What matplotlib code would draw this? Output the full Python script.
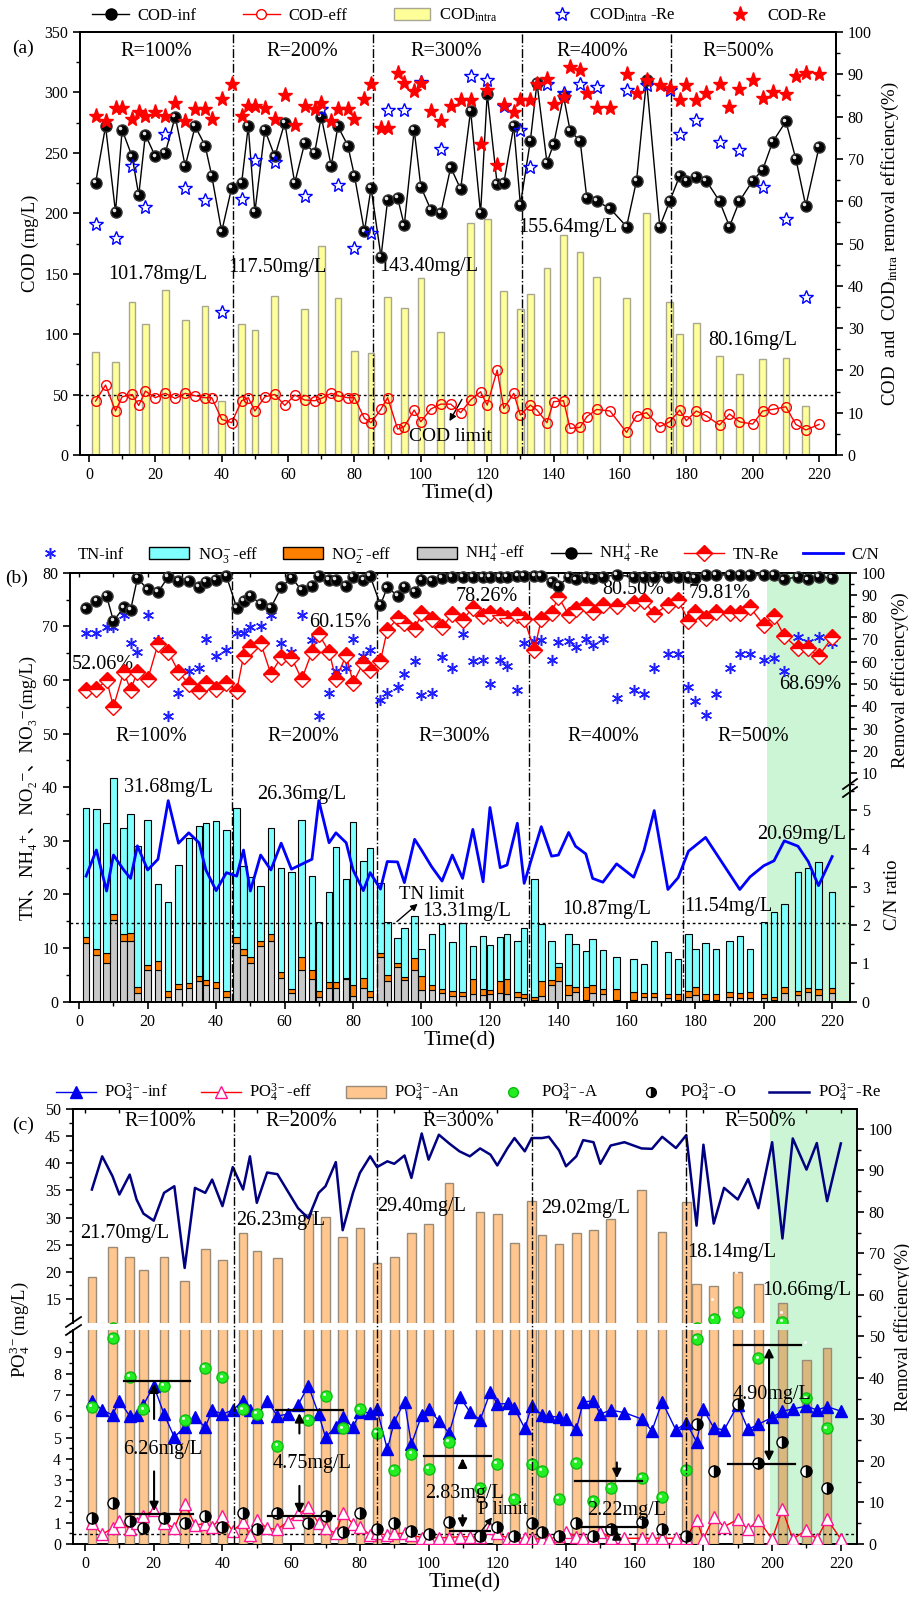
import numpy as np
import matplotlib
matplotlib.use("Agg")
import matplotlib.pyplot as plt
from matplotlib.lines import Line2D
from matplotlib.patches import Patch
from matplotlib.transforms import ScaledTranslation

plt.rcParams['font.family'] = ['Liberation Serif', 'DejaVu Serif', 'Noto Sans CJK SC']
plt.rcParams['mathtext.fontset'] = 'custom'
plt.rcParams['mathtext.rm'] = 'Liberation Serif'
plt.rcParams['mathtext.it'] = 'Liberation Serif:italic'
plt.rcParams['mathtext.bf'] = 'Liberation Serif:bold'
plt.rcParams['font.size'] = 11
plt.rcParams['axes.linewidth'] = 1.4

# ---------------- data ----------------
days = [2, 5, 8, 10, 13, 15, 17, 20, 23, 26, 29, 32, 35, 37, 40, 43,
        46, 48, 50, 53, 56, 59, 62, 65, 68, 70, 73, 75, 78, 80, 83, 85,
        88, 90, 93, 95, 98, 100, 103, 106, 109,
        112, 115, 118, 120, 123, 125, 128, 130, 133, 135, 138, 140, 143, 145, 148, 150,
        153, 157, 162, 165, 168, 172, 175,
        178, 180, 183, 186, 190, 193, 196, 200, 203, 206, 210, 213, 216, 220]
sample_days = [2, 8, 13, 17, 23, 29, 35, 40, 46, 50, 56, 65, 70, 75, 80, 85,
               90, 95, 100, 106, 115, 120, 125, 130, 133, 138, 143, 148, 153, 162, 168, 175,
               178, 183, 190, 196, 203, 210, 216]

# (a) COD
cod_inf = [225, 272, 201, 269, 247, 215, 265, 247, 250, 280, 239, 272, 256, 231, 185, 221,
           225, 272, 201, 269, 247, 275, 225, 258, 250, 280, 239, 272, 256, 231, 185, 221,
           164, 211, 213, 190, 269, 222, 203, 200, 238,
           220, 285, 200, 299, 224, 225, 272, 207, 260, 308, 242, 257, 297, 268, 260, 213,
           210, 204, 189, 227, 310, 189, 210,
           231, 227, 230, 227, 210, 189, 210, 227, 236, 259, 276, 245, 206, 255]
cod_eff = [44.6, 57.9, 36.4, 48.2, 50.1, 41.0, 52.9, 47.4, 51.0, 46.8, 51.0, 49.0, 47.4, 47.4, 29.5, 26.7,
           44.9, 47.4, 36.4, 48.2, 50.1, 41.0, 49.6, 45.5, 44.9, 46.8, 51.0, 49.0, 47.4, 47.4, 30.3, 26.7,
           38.0, 47.4, 21.5, 23.4, 37.2, 27.5, 38.0, 42.1, 42.1,
           35.0, 45.5, 52.3, 41.3, 70.2, 38.6, 51.0, 33.1, 41.3, 37.2, 26.7, 44.1, 44.9, 22.0, 22.9, 31.7,
           37.7, 36.4, 18.7, 32.5, 35.0, 23.4, 27.5,
           37.2, 28.4, 36.4, 32.5, 24.8, 33.9, 27.5, 25.6, 36.4, 37.7, 39.9, 25.3, 20.7, 25.3]
cod_re = [80.2, 78.9, 82.1, 82.1, 79.5, 81.1, 80.2, 81.1, 80.1, 83.2, 79.0, 81.9, 81.7, 79.5, 84.1, 87.8,
          80.1, 82.4, 82.4, 82.1, 79.5, 85.0, 78.0, 82.4, 81.7, 83.3, 79.0, 81.9, 81.7, 79.5, 84.1, 87.8,
          77.3, 77.3, 90.2, 88.0, 86.0, 88.0, 81.3, 78.9, 82.4,
          84.0, 83.9, 73.6, 86.2, 68.5, 82.7, 81.1, 84.0, 84.0, 87.8, 88.8, 82.9, 84.6, 91.7, 91.1, 85.6,
          82.1, 82.1, 90.0, 85.6, 88.7, 87.4, 86.8,
          83.9, 87.4, 84.0, 85.6, 87.8, 82.3, 86.6, 88.6, 84.4, 85.7, 85.4, 89.5, 90.3, 90.0]
cod_intra = [85.4, 76.6, 126.2, 108.8, 136.9, 111.3, 122.9, 44.9,
             108.8, 103.3, 131.7, 120.7, 173.0, 129.5, 86.0, 84.8,
             130.6, 121.8, 146.6, 101.7, 192.0, 195.6, 136.1, 121.2,
             133.6, 154.8, 182.4, 168.0, 147.4, 129.8, 200.0, 126.7,
             100.3, 109.4, 82.1, 66.7, 79.3, 80.4, 40.8]
cod_intra_re = [54.7, 51.3, 68.3, 58.7, 75.8, 63.1, 60.2, 33.9,
                60.6, 69.8, 69.3, 61.3, 81.9, 63.8, 49.0, 52.4,
                81.5, 81.5, 88.2, 72.4, 89.5, 88.6, 82.5, 76.8,
                68.1, 87.6, 85.6, 87.8, 87.0, 86.4, 87.4, 86.2,
                76.0, 79.1, 74.0, 72.2, 63.4, 55.7, 37.4]

# (b) nitrogen
tn_inf = [68.8, 68.8, 69.9, 69.9, 72.1, 66.9, 65.3, 72.1, 67.4, 53.3, 57.6, 61.7, 62.2, 67.6, 64.4, 65.6,
          68.8, 68.8, 69.9, 70.0, 72.1, 66.9, 65.3, 72.1, 67.4, 53.3, 57.6, 61.7, 62.2, 67.6, 64.4, 65.6,
          56.2, 57.6, 58.7, 61.1, 63.6, 57.2, 57.6, 64.3, 62.2,
          68.6, 63.6, 63.7, 59.2, 63.7, 62.6, 58.2, 66.8, 67.3, 67.4, 63.7, 67.1, 67.2, 66.1, 67.6, 66.5,
          67.7, 56.7, 58.2, 57.4, 62.2, 64.8, 64.9,
          58.6, 56.0, 53.5, 57.4, 62.2, 64.8, 64.9, 63.8, 64.1, 61.7, 68.0, 67.1, 68.0, 66.8]
nh4_eff = [10.9, 8.8, 7.3, 15.2, 11.4, 11.4, 1.6, 5.9, 6.0, 0.8, 2.3, 2.5, 3.9, 3.1, 2.5, 0.9,
           10.9, 8.8, 7.3, 10.3, 11.4, 4.5, 1.6, 5.9, 4.2, 0.8, 2.5, 2.5, 4.2, 1.1, 2.5, 0.9,
           8.4, 3.9, 6.4, 4.0, 5.9, 2.2, 2.2, 1.6, 1.1,
           1.1, 1.4, 1.2, 1.4, 1.6, 1.4, 0.8, 0.6, 0.4, 1.1, 3.1, 3.9, 1.2, 1.9, 0.3, 1.7,
           1.4, 0.4, 0.3, 0.8, 0.8, 0.6, 0.3,
           0.9, 1.2, 0.3, 0.3, 0.8, 0.6, 0.6, 0.6, 0.3, 1.7, 1.2, 1.9, 1.2, 1.7]
no2_eff = [1.2, 1.0, 1.7, 1.1, 1.2, 1.5, 1.1, 0.9, 1.5, 1.2, 1.0, 0.9, 0.9, 0.9, 1.1, 1.1,
           1.2, 1.1, 1.0, 1.1, 1.2, 1.0, 0.7, 2.4, 1.8, 1.2, 1.1, 1.1, 0.3, 2.0, 1.9, 1.1,
           0.7, 1.0, 0.9, 0.6, 2.2, 2.6, 0.9, 0.8, 0.9,
           0.8, 2.8, 1.2, 0.8, 2.3, 2.8, 1.1, 0.8, 0.5, 2.8, 0.9, 2.6, 1.9, 0.8, 2.4, 1.4,
           1.0, 2.0, 1.6, 0.8, 0.8, 0.8, 1.1,
           1.1, 1.6, 1.1, 1.1, 1.1, 1.1, 1.3, 0.8, 0.6, 1.0, 0.8, 0.6, 1.1, 0.8]
no3_eff = [24.1, 26.1, 24.4, 25.5, 19.8, 22.1, 26.3, 27.1, 14.4, 16.5, 22.2, 27.2, 28.0, 29.4, 30.1, 30.1,
           24.1, 15.4, 15.0, 10.2, 19.8, 19.5, 21.9, 25.6, 17.4, 12.8, 16.9, 25.3, 18.4, 30.4, 21.8, 26.7,
           13.0, 9.9, 4.5, 9.2, 7.9, 5.1, 9.5, 12.1, 9.2,
           12.8, 6.2, 9.9, 8.4, 8.2, 8.4, 9.4, 12.3, 22.0, 10.5, 7.4, 0.8, 9.6, 8.0, 6.8, 8.5,
           7.2, 6.0, 6.0, 5.4, 9.7, 7.8, 6.6,
           10.6, 7.0, 9.5, 8.5, 9.5, 10.6, 8.0, 13.5, 15.8, 15.6, 22.1, 22.4, 23.7, 18.0]
nh4_re = [84.0, 87.4, 89.5, 78.3, 84.4, 83.2, 97.5, 92.5, 91.2, 98.2, 96.3, 96.3, 93.7, 95.7, 96.7, 98.5,
          84.3, 87.4, 89.7, 85.9, 84.3, 93.4, 97.8, 92.1, 94.2, 98.5, 96.7, 96.7, 94.0, 98.2, 96.7, 98.5,
          85.5, 93.4, 89.7, 93.7, 91.2, 96.7, 96.4, 97.8, 98.2,
          98.2, 98.2, 98.2, 98.2, 98.2, 98.2, 98.5, 98.5, 98.5, 98.5, 96.0, 94.0, 98.2, 97.0, 98.2, 97.5,
          98.2, 99.0, 98.2, 98.2, 98.2, 98.2, 98.2,
          98.2, 97.5, 99.0, 99.0, 99.0, 99.0, 99.0, 99.0, 99.0, 97.0, 98.2, 97.0, 98.2, 97.6]
tn_re = [47.3, 47.6, 51.8, 39.8, 55.5, 47.3, 55.5, 52.1, 67.9, 64.5, 55.5, 50.0, 46.7, 50.3, 47.6, 50.6,
         47.0, 62.5, 66.7, 68.5, 54.5, 62.2, 61.9, 52.1, 64.5, 72.4, 64.5, 52.2, 63.0, 50.6, 59.6, 56.3,
         60.3, 74.2, 79.5, 77.2, 74.5, 81.7, 79.0, 75.4, 81.4,
         78.7, 84.3, 80.5, 81.7, 81.0, 79.5, 81.0, 79.0, 65.5, 79.0, 82.0, 89.2, 81.0, 83.5, 85.5, 82.5,
         85.5, 85.0, 86.5, 87.4, 81.4, 85.5, 87.7,
         78.4, 82.5, 79.5, 82.5, 82.0, 81.7, 84.4, 76.5, 80.5, 71.5, 66.0, 66.0, 62.5, 70.9]
cn_days = days[:41] + [112, 115, 118, 120, 123, 125, 128, 130, 135, 138, 140, 143, 145, 148, 150, 153,
                       157, 162, 165, 168, 172, 175, 178, 183, 193, 196, 200, 203, 206, 210, 213, 216, 220]
cn_ratio = [3.28, 3.96, 2.89, 3.83, 3.44, 3.22, 4.07, 3.44, 3.72, 5.25, 4.14, 4.41, 4.15, 3.44, 2.90, 3.37,
            3.28, 3.96, 2.89, 3.83, 3.44, 4.14, 3.46, 3.59, 3.72, 5.25, 4.15, 4.41, 4.15, 3.44, 2.90, 3.37,
            2.94, 3.66, 3.65, 3.11, 4.24, 3.96, 3.52, 3.15, 3.83,
            3.22, 4.50, 3.13, 5.07, 3.50, 3.57, 4.66, 3.09, 4.57, 3.80, 3.83, 4.42, 4.06, 3.86, 3.22, 3.12,
            3.60, 3.25, 3.95, 4.99, 2.93, 3.24, 3.93, 4.29, 2.93, 3.26, 3.55, 3.68, 4.20, 4.06, 3.66, 3.03, 3.79]

# (c) phosphate
po4_inf = [6.73, 6.29, 6.06, 6.73, 6.01, 6.06, 6.53, 7.43, 6.10, 5.01, 5.51, 5.95, 5.48, 6.29, 6.10, 6.29,
           6.73, 6.29, 5.98, 6.73, 6.01, 6.10, 6.53, 7.43, 6.10, 5.01, 5.51, 5.95, 5.48, 6.18, 6.17, 6.32,
           4.44, 5.74, 6.68, 4.68, 6.06, 6.32, 5.79, 5.20, 6.92,
           6.21, 5.82, 7.15, 6.57, 6.60, 6.37, 5.43, 6.48, 6.06, 6.01, 5.95, 5.87, 5.38, 6.68, 6.71, 6.10,
           6.29, 6.17, 5.87, 5.32, 6.68, 5.35, 5.70,
           4.80, 6.32, 5.46, 5.35, 6.53, 5.38, 5.62, 5.95, 6.24, 6.34, 6.48, 6.29, 6.45, 6.24]
po4_eff = [1.0, 0.45, 0.75, 1.1, 0.7, 1.0, 1.3, 1.6, 1.0, 0.75, 1.9, 0.9, 0.95, 0.8, 1.3, 0.6,
           1.05, 0.42, 1.13, 0.74, 0.69, 1.05, 1.39, 1.72, 0.97, 0.74, 0.5, 1.47, 0.94, 0.81, 0.42, 0.5,
           0.42, 0.5, 0.5, 0.42, 0.3, 0.3, 0.3, 0.3, 0.34,
           0.34, 0.34, 0.75, 0.5, 0.27, 0.27, 0.27, 0.27, 0.22, 0.22, 0.38, 0.58, 0.34, 0.27, 0.27, 0.58,
           0.3, 0.27, 0.27, 0.27, 0.27, 0.27, 0.27,
           1.13, 0.23, 1.28, 0.81, 1.16, 0.69, 1.13, 0.23, 1.63, 0.23, 0.66, 0.23, 1.16, 0.23]
po4_re = [85.4, 93.4, 88.6, 84.2, 89.0, 83.0, 79.6, 77.9, 84.6, 86.2, 66.5, 85.8, 84.6, 87.8, 81.4, 90.8,
          85.4, 93.4, 82.2, 89.5, 89.1, 85.0, 80.9, 78.5, 84.6, 86.2, 92.0, 75.6, 84.6, 89.4, 93.4, 90.8,
          92.2, 91.6, 93.6, 88.2, 98.9, 92.6, 98.6, 96.5, 94.6,
          93.4, 95.3, 93.8, 91.2, 95.4, 97.8, 94.6, 97.8, 97.8, 98.1, 94.8, 91.0, 93.4, 97.3, 96.8, 91.6,
          96.0, 96.8, 95.3, 95.2, 98.1, 95.4, 98.5,
          76.7, 96.2, 77.2, 85.8, 83.0, 87.9, 80.9, 96.8, 73.6, 97.7, 90.2, 96.6, 82.6, 96.5]
po4_an = [19.0, 24.6, 22.7, 20.4, 22.8, 18.4, 24.2, 22.1,
          27.2, 23.9, 22.5, 30.6, 30.1, 26.4, 28.0, 21.6,
          22.8, 27.2, 28.8, 36.3, 31.1, 30.6, 25.4, 33.1,
          26.8, 25.1, 27.2, 27.7, 29.8, 35.1, 27.4, 32.9,
          17.8, 17.4, 20.0, 17.8, 14.2, 8.64, 9.22]
po4_a = [6.42, 9.66, 7.86, 6.32, 7.43, 5.82, 8.28, 7.82,
         6.32, 6.10, 4.62, 5.82, 6.95, 5.43, 6.32, 5.23,
         3.47, 4.23, 3.51, 4.80, 2.61, 3.76, 2.11, 3.76,
         3.44, 2.10, 3.79, 2.02, 2.64, 3.11, 2.19, 3.47,
         9.62, 11.4, 12.7, 8.72, 10.8, 6.84, 5.43]
po4_o = [1.20, 1.91, 1.10, 0.74, 1.24, 0.97, 1.31, 0.78,
         1.47, 0.69, 1.47, 0.97, 1.31, 0.58, 1.47, 0.70,
         0.97, 0.63, 0.47, 1.05, 0.38, 0.78, 0.38, 1.00,
         0.55, 0.39, 1.00, 0.38, 0.69, 1.05, 0.69, 0.38,
         5.63, 3.44, 6.57, 3.79, 4.80, 3.43, 2.61]

r_labels = ['R=100%', 'R=200%', 'R=300%', 'R=400%', 'R=500%']
bounds_a = [43.5, 85.5, 130.5, 175.5]
bounds_b = [44.5, 87, 131.5, 176.5]
bounds_c = [43.5, 85, 130, 175]

cod_texts = ['101.78mg/L', '117.50mg/L', '143.40mg/L', '155.64mg/L', '80.16mg/L']
tn_re_texts = ['52.06%', '60.15%', '78.26%', '80.50%', '79.81%', '68.69%']
tn_texts = ['31.68mg/L', '26.36mg/L', '13.31mg/L', '10.87mg/L', '11.54mg/L', '20.69mg/L']
po4_an_texts = ['21.70mg/L', '26.23mg/L', '29.40mg/L', '29.02mg/L', '18.14mg/L', '10.66mg/L']
po4_rel_texts = ['6.26mg/L', '4.75mg/L', '2.83mg/L', '2.22mg/L', '4.90mg/L']

# ---------------- helpers ----------------
fig = plt.figure(figsize=(9.09, 16.04), dpi=100)
W, H = 909.0, 1604.0


def rect(l, t, r, b):
    return [l / W, 1 - b / H, (r - l) / W, (b - t) / H]


def ticks_out(ax, axis='both'):
    ax.tick_params(axis=axis, which='major', direction='out', length=5, width=1.2, labelsize=11.5)
    ax.tick_params(axis=axis, which='minor', direction='out', length=3, width=1.0)


def top_ticks(ax):
    sec = ax.secondary_xaxis('top')
    sec.set_xticks(np.arange(0, 221, 10))
    sec.tick_params(direction='in', length=3, width=1.0, labeltop=False)


def shine(ax, x, y, size=2.6):
    off = ScaledTranslation(-1.3 / 72, 1.3 / 72, fig.dpi_scale_trans)
    ax.plot(x, y, 'o', ms=size, color='white', mec='none', alpha=0.9,
            transform=ax.transData + off, zorder=6, clip_on=False)


def xaxis_days(ax, lo, hi):
    ax.set_xlim(lo, hi)
    ax.set_xticks(np.arange(0, 221, 20))
    ax.set_xticks(np.arange(0, 221, 10), minor=True)
    ax.set_xlabel('Time(d)', fontsize=16, labelpad=1)


# ================= (a) =================
ax_a = fig.add_axes(rect(80, 32, 836, 455))
ax_a2 = ax_a.twinx()
ax_a.bar(sample_days, cod_intra, width=2.0, color='#FFFF99', edgecolor='#A8A890', lw=1.0, zorder=2)
ax_a.plot(days, cod_eff, '-', color='red', lw=1.0, marker='o', ms=7, mfc='none', mec='red', mew=1.0, zorder=4)
ax_a.plot(days, cod_inf, '-', color='black', lw=1.0, marker='o', ms=8, mfc='black', mec='#333333', zorder=5)
shine(ax_a, days, cod_inf)
ax_a2.plot(sample_days, cod_intra_re, ls='none', marker='*', ms=10, mfc='none', mec='#0000FF', mew=1.0)
ax_a2.plot(days, cod_re, ls='none', marker='*', ms=11, color='#FF0000', mec='#FF0000')
for b in bounds_a:
    ax_a.axvline(b, color='black', ls='-.', lw=1.0, zorder=7)
ax_a.axhline(50, color='black', ls=(0, (2, 2)), lw=1.0, zorder=3)

xaxis_days(ax_a, -2.7, 225.1)
ax_a.set_ylim(0, 350)
ax_a.set_yticks(np.arange(0, 351, 50))
ax_a.set_yticks(np.arange(0, 351, 25), minor=True)
ax_a2.set_ylim(0, 100)
ax_a2.set_yticks(np.arange(0, 101, 10))
ax_a2.set_yticks(np.arange(0, 101, 5), minor=True)
ticks_out(ax_a)
ticks_out(ax_a2)
ax_a.set_ylabel('COD (mg/L)', fontsize=13.5, labelpad=4)
ax_a2.set_ylabel('COD  and  COD$_{\\rm intra}$ removal efficiency(%)', fontsize=13.5, labelpad=6)

for x, lab in zip([20.4, 64.4, 107.8, 151.8, 195.6], r_labels):
    ax_a.text(x, 334, lab, ha='center', va='center', fontsize=14.5)
for (x, y), lab in zip([(20.7, 149), (56.9, 155.5), (102.4, 156), (144.3, 188.6), (200, 95)], cod_texts):
    ax_a.text(x, y, lab, ha='center', va='center', fontsize=14.5)
ax_a.text(109, 15.7, 'COD limit', ha='center', va='center', fontsize=14)
ax_a.annotate('', xy=(108.2, 26), xytext=(112.8, 48),
              arrowprops=dict(arrowstyle='-|>', color='black', lw=1.0, mutation_scale=10))

h_a = [Line2D([], [], color='black', lw=1, marker='o', ms=8, mfc='black'),
       Line2D([], [], color='red', lw=1, marker='o', ms=7, mfc='white', mec='red'),
       Patch(facecolor='#FFFF99', edgecolor='#A8A890'),
       Line2D([], [], ls='none', marker='*', ms=10, mfc='none', mec='#0000FF'),
       Line2D([], [], ls='none', marker='*', ms=11, color='#FF0000')]
l_a = ['COD-inf', 'COD-eff', 'COD$_{\\rm intra}$', 'COD$_{\\rm intra}$ -Re', 'COD-Re']
fig.legend(h_a, l_a, loc='center', bbox_to_anchor=(0.505, 0.9905), ncol=5, frameon=False,
           fontsize=12, handlelength=2.2, columnspacing=2.8, handletextpad=0.5)
fig.text(23 / W, 1 - 48 / H, '(a)', fontsize=14, ha='center', va='center')

# ================= (b) =================
ax_b = fig.add_axes(rect(70, 572.7, 850, 1001.7))
ax_b.axvspan(201, 226, color='#CCF5D6', lw=0, zorder=0)
ax_b.bar(days, nh4_eff, width=1.9, color='#C8C8C8', edgecolor='black', lw=0.8, zorder=2)
ax_b.bar(days, no2_eff, width=1.9, bottom=nh4_eff, color='#FF8000', edgecolor='black', lw=0.8, zorder=2)
ax_b.bar(days, no3_eff, width=1.9, bottom=np.add(nh4_eff, no2_eff), color='#80FFFF',
         edgecolor='black', lw=0.8, zorder=2)
ax_b.plot(days, tn_inf, ls='none', marker=(6, 2, 0), ms=8, mec='#1F1FFF', mew=1.1, zorder=4)
for b in bounds_b:
    ax_b.axvline(b, color='black', ls='-.', lw=1.0, zorder=3)
ax_b.axhline(14.6, color='black', ls=(0, (2, 2)), lw=1.0, zorder=3)
xaxis_days(ax_b, -2.7, 225.2)
ax_b.set_ylim(0, 80)
ax_b.set_yticks(np.arange(0, 81, 10))
ax_b.set_yticks(np.arange(0, 81, 5), minor=True)
ax_b.spines['right'].set_visible(False)
ticks_out(ax_b)
top_ticks(ax_b)
ax_b.set_ylabel('TN、NH\u2084\u207a、NO\u2082\u207b、NO\u2083\u207b(mg/L)', fontsize=13.5, labelpad=4)

ax_bre = fig.add_axes(rect(70, 572.7, 850, 788), facecolor='none')
ax_bcn = fig.add_axes(rect(70, 788, 850, 1001.7), facecolor='none')
for ax in (ax_bre, ax_bcn):
    ax.set_xlim(-2.7, 225.2)
    for s in ('left', 'top', 'bottom'):
        ax.spines[s].set_visible(False)
    ax.set_xticks([])
    ax.yaxis.tick_right()
    ax.yaxis.set_label_position('right')
    ticks_out(ax, 'y')
ax_bre.set_ylim(3.3, 100)
ax_bre.set_yticks(np.arange(10, 101, 10))
ax_bre.set_yticks(np.arange(5, 101, 5), minor=True)
ax_bcn.set_ylim(0, 5.58)
ax_bcn.set_yticks(np.arange(0, 6, 1))
ax_bcn.set_yticks(np.arange(0, 5.6, 0.5), minor=True)
ax_bre.set_ylabel('Removal efficiency(%)', fontsize=13.5, labelpad=4)
ax_bcn.set_ylabel('C/N ratio', fontsize=13.5, labelpad=10)

ax_bre.plot(days, tn_re, '-', color='red', lw=1.0, marker='D', ms=8, fillstyle='top',
            mfc='red', mfcalt='white', mec='red', mew=1.0)
ax_bre.plot(days, nh4_re, '-', color='black', lw=1.0, marker='o', ms=8, mfc='black', mec='#333333',
            clip_on=False)
shine(ax_bre, days, nh4_re)
ax_bcn.plot(cn_days, cn_ratio, '-', color='#0000FF', lw=2.0, clip_on=False)

for x, lab in zip([21.2, 65.4, 109.5, 153.0, 196.8], r_labels):
    ax_b.text(x, 49.4, lab, ha='center', va='center', fontsize=14.5)
for (x, y), lab in zip([(7, 62.8), (76.2, 70.7), (119, 75.5), (161.9, 76.8), (187.2, 76.2), (213.5, 59.2)],
                       tn_re_texts):
    ax_b.text(x, y, lab, ha='center', va='center', fontsize=14.5)
for (x, y), lab in zip([(26, 40.0), (65, 38.7), (113.2, 16.8), (154.1, 17.2), (189.6, 17.7), (211, 31.1)],
                       tn_texts):
    ax_b.text(x, y, lab, ha='center', va='center', fontsize=14.5, zorder=8)
ax_b.text(93.5, 19.9, 'TN limit', ha='left', va='center', fontsize=13.5, zorder=8)
ax_b.annotate('', xy=(99.5, 18.6), xytext=(92.2, 14.6),
              arrowprops=dict(arrowstyle='-|>', color='black', lw=1.0, mutation_scale=10), zorder=8)

h_b = [Line2D([], [], ls='none', marker=(6, 2, 0), ms=8, mec='#1F1FFF', mew=1.1),
       Patch(facecolor='#80FFFF', edgecolor='black'),
       Patch(facecolor='#FF8000', edgecolor='black'),
       Patch(facecolor='#C8C8C8', edgecolor='black'),
       Line2D([], [], color='black', lw=1, marker='o', ms=8, mfc='black'),
       Line2D([], [], color='red', lw=1, marker='D', ms=8, fillstyle='top', mfc='red', mfcalt='white', mec='red'),
       Line2D([], [], color='#0000FF', lw=2)]
l_b = ['TN-inf', 'NO$_3^-$-eff', 'NO$_2^-$-eff', 'NH$_4^+$-eff', 'NH$_4^+$-Re', 'TN-Re', 'C/N']
fig.legend(h_b, l_b, loc='center', bbox_to_anchor=(0.5, 0.6545), ncol=7, frameon=False,
           fontsize=12, handlelength=2.4, columnspacing=1.5, handletextpad=0.5)
fig.text(17 / W, 1 - 578 / H, '(b)', fontsize=14, ha='center', va='center')

# break marks on right spine of (b)
for dy in (-4, 4):
    fig.add_artist(Line2D([(843) / W, (857) / W], [1 - (788 + dy + 5) / H, 1 - (788 + dy - 5) / H],
                          color='black', lw=1.3))

# ================= (c) =================
ax_cr = fig.add_axes(rect(73, 1109, 857, 1544))
ax_cr.axvspan(199.5, 226, color='#CCF5D6', lw=0, zorder=0)
xaxis_days(ax_cr, -3.5, 224.7)
ax_cr.set_ylim(0, 104.8)
ax_cr.yaxis.tick_right()
ax_cr.yaxis.set_label_position('right')
ax_cr.set_yticks(np.arange(0, 101, 10))
ax_cr.set_yticks(np.arange(0, 101, 5), minor=True)
ax_cr.spines['left'].set_visible(False)
ticks_out(ax_cr)
top_ticks(ax_cr)
ax_cr.set_ylabel('Removal efficiency(%)', fontsize=13, labelpad=1)

ax_cu = fig.add_axes(rect(73, 1109, 857, 1323), facecolor='none')
ax_cl = fig.add_axes(rect(73, 1330, 857, 1544), facecolor='none')
for ax in (ax_cu, ax_cl):
    ax.set_xlim(-3.5, 224.7)
    for s in ('right', 'top', 'bottom'):
        ax.spines[s].set_visible(False)
    ax.set_xticks([])
    ticks_out(ax, 'y')
ax_cu.set_ylim(10.59, 50)
ax_cu.set_yticks(np.arange(15, 51, 5))
ax_cu.set_yticks(np.arange(12.5, 51, 2.5), minor=True)
ax_cl.set_ylim(0, 10.05)
ax_cl.set_yticks(np.arange(0, 10, 1))
ax_cl.set_yticks(np.arange(0, 10.01, 0.5), minor=True)

bar_cols = ['#D8B87C' if d > 200 else '#FFC78F' for d in sample_days]
for ax in (ax_cu, ax_cl):
    ax.bar(sample_days, po4_an, width=2.5, color=bar_cols, edgecolor='#9A8A78', lw=1.0, zorder=1)

ax_cl.axhline(0.47, color='black', ls=(0, (2, 2)), lw=1.0, zorder=2)
ax_cl.plot(days, po4_eff, '-', color='red', lw=1.0, marker='^', ms=8, mfc='white', mec='#FF1493',
           mew=1.0, zorder=4)
ax_cl.plot(days, po4_inf, '-', color='#0000EE', lw=1.0, marker='^', ms=8.5, mfc='#0000EE', mec='#0000EE',
           zorder=4)
for ax in (ax_cu, ax_cl):
    ax.plot(sample_days, po4_a, ls='none', marker='o', ms=8, mfc='#22EE22', mec='#11BB11', zorder=5)
    shine(ax, sample_days, po4_a, 2.2)
ax_cl.plot(sample_days, po4_o, ls='none', marker='o', ms=8, fillstyle='right', mfc='black',
           mfcalt='white', mec='black', zorder=5)

ax_cline = fig.add_axes(rect(73, 1109, 857, 1544), facecolor='none')
ax_cline.axis('off')
ax_cline.set_xlim(-3.5, 224.7)
ax_cline.set_ylim(0, 104.8)
ax_cline.plot(days, po4_re, '-', color='#000080', lw=1.8)
for b in bounds_c:
    ax_cline.axvline(b, color='black', ls='-.', lw=1.0)

# difference markers: (x1, x2, y_top, y_bottom, arrow_x, text_x, text_y)
diff_marks = [((11.2, 30.6), (11.9, 31.3), 7.67, 1.41, 20.1, 22.6, 4.44),
              ((55.6, 75.0), (53.4, 72.8), 6.28, 1.31, 62.4, 66.0, 3.76),
              ((98.8, 118.1), (106.3, 117.9), 4.15, 0.63, 109.9, 110.6, 2.38),
              ((142.7, 162.1), (143.6, 163.0), 2.96, 0.78, 154.8, 157.7, 1.56),
              ((188.9, 208.4), (187.2, 206.7), 9.34, 3.76, 199.1, 199.9, 7.04)]
ap = dict(arrowstyle='-|>', color='black', lw=1.5, mutation_scale=13)
for i, ((ux1, ux2), (lx1, lx2), yt, yb, axx, tx, ty) in enumerate(diff_marks):
    ax_cl.plot([ux1, ux2], [yt, yt], color='black', lw=1.6, zorder=7)
    ax_cl.plot([lx1, lx2], [yb, yb], color='black', lw=1.6, zorder=7)
    if i == 3:
        ax_cl.annotate('', xy=(axx, yt), xytext=(axx, yt + 1.0), arrowprops=ap, zorder=7)
        ax_cl.annotate('', xy=(axx, yb), xytext=(axx, yb - 0.6), arrowprops=ap, zorder=7,
                       annotation_clip=False)
    elif i == 4:
        ax_cl.annotate('', xy=(axx, yt), xytext=(axx, 5.8), arrowprops=ap, zorder=7)
        ax_cl.annotate('', xy=(axx, yb), xytext=(axx, 5.8), arrowprops=ap, zorder=7)
    else:
        ax_cl.annotate('', xy=(axx, yt), xytext=(axx, ty + 1.3), arrowprops=ap, zorder=7)
        ax_cl.annotate('', xy=(axx, yb), xytext=(axx, ty - 0.9), arrowprops=ap, zorder=7)
    ax_cl.text(tx, ty, po4_rel_texts[i], ha='center', va='center', fontsize=14.5, zorder=8)

ax_cl.text(121.7, 1.63, 'P limit', ha='center', va='center', fontsize=13.5, zorder=8)
ax_cl.annotate('', xy=(119, 1.35), xytext=(114.8, 0.5),
               arrowprops=dict(arrowstyle='-|>', color='black', lw=1.0, mutation_scale=10), zorder=8)

for x, lab in zip([21.8, 63.1, 108.6, 151.0, 196.5], r_labels):
    ax_cu.text(x, 47.7, lab, ha='center', va='center', fontsize=14.5)
for (x, y), lab in zip([(11.4, 27.0), (56.8, 29.4), (98, 32.0), (145.6, 31.7), (188.3, 23.5), (210.1, 16.5)],
                       po4_an_texts):
    ax_cu.text(x, y, lab, ha='center', va='center', fontsize=14.5, zorder=8)

h_c = [Line2D([], [], color='#0000EE', lw=1, marker='^', ms=8.5, mfc='#0000EE', mec='#0000EE'),
       Line2D([], [], color='red', lw=1, marker='^', ms=8, mfc='white', mec='#FF1493'),
       Patch(facecolor='#FFC78F', edgecolor='#9A8A78'),
       Line2D([], [], ls='none', marker='o', ms=7, mfc='#22EE22', mec='#11BB11'),
       Line2D([], [], ls='none', marker='o', ms=7, fillstyle='right', mfc='black', mfcalt='white', mec='black'),
       Line2D([], [], color='#000080', lw=1.8)]
l_c = ['PO$_4^{3-}$-inf', 'PO$_4^{3-}$-eff', 'PO$_4^{3-}$-An', 'PO$_4^{3-}$-A', 'PO$_4^{3-}$-O', 'PO$_4^{3-}$-Re']
fig.legend(h_c, l_c, loc='center', bbox_to_anchor=(0.515, 0.3185), ncol=6, frameon=False,
           fontsize=12, handlelength=2.4, columnspacing=2.0, handletextpad=0.5)
fig.text(23 / W, 1 - 1125 / H, '(c)', fontsize=14, ha='center', va='center')
fig.text(20 / W, 1 - 1330 / H, 'PO$_4^{3-}$(mg/L)', fontsize=13.5, rotation=90, ha='center', va='center')

# break marks on left spine of (c)
for dy in (-4, 4):
    fig.add_artist(Line2D([66 / W, 81 / W], [1 - (1326 + dy + 5) / H, 1 - (1326 + dy - 5) / H],
                          color='black', lw=1.3))

fig.savefig('out.png', dpi=100)
